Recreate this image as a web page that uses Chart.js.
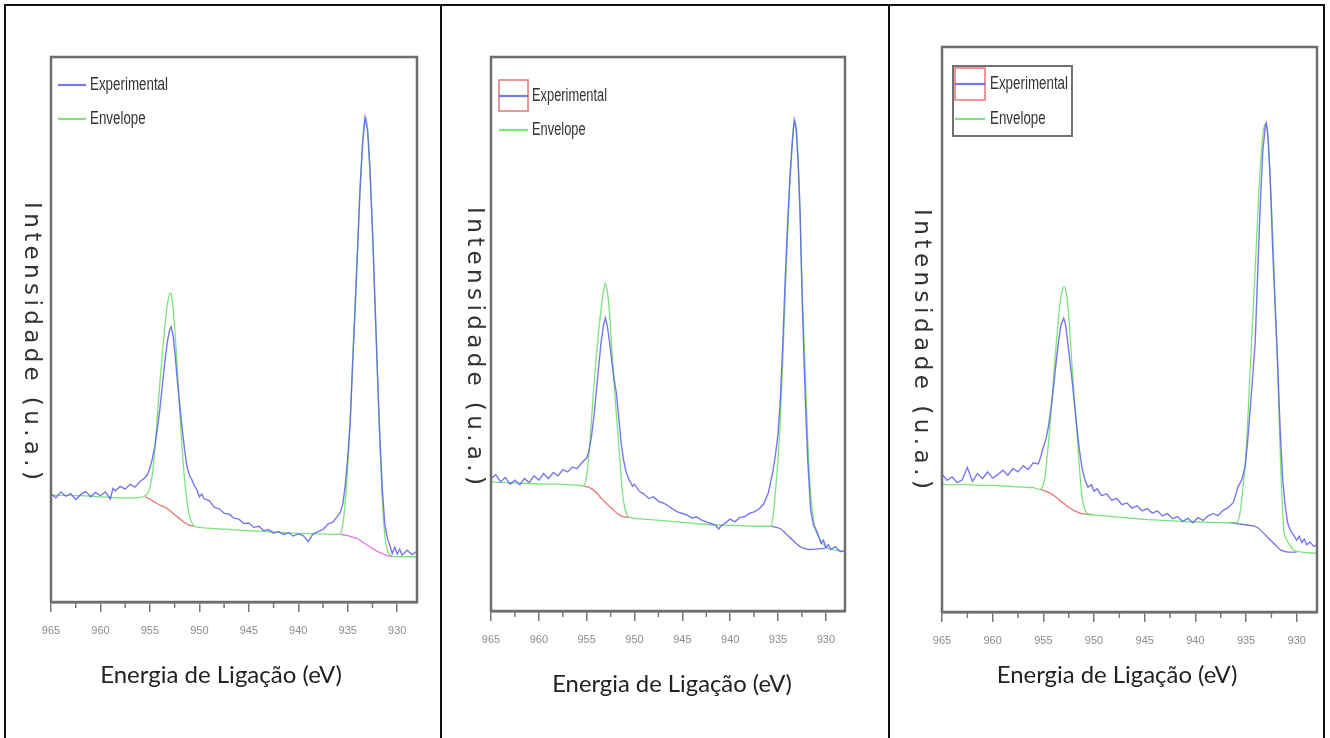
<!DOCTYPE html>
<html>
<head>
<meta charset="utf-8">
<script src="https://cdn.jsdelivr.net/npm/chart.js@4.4.1/dist/chart.umd.min.js"></script>
<style>
  html, body { margin: 0; padding: 0; background: #fff; }
  #page { position: relative; width: 1330px; height: 738px; overflow: hidden; background: #fff; }
  .rule { position: absolute; background: #111; }
  canvas { position: absolute; top: 0; }
</style>
</head>
<body>
<div id="page">
  <div class="rule" style="left:4px;top:4px;width:1321px;height:2px"></div>
  <div class="rule" style="left:4px;top:4px;width:2px;height:734px"></div>
  <div class="rule" style="left:440px;top:4px;width:2px;height:734px"></div>
  <div class="rule" style="left:888px;top:4px;width:2px;height:734px"></div>
  <div class="rule" style="left:1323px;top:4px;width:2px;height:734px"></div>
  <canvas id="c1"></canvas>
  <canvas id="c2"></canvas>
  <canvas id="c3"></canvas>
</div>
<script>
// energia de ligação (eV) -> intensidade (u.a., 0 = eixo, 100 = topo do quadro)
const xTicks = [965, 960, 955, 950, 945, 940, 935, 930];
const xMinorTicks = [962.5, 957.5, 952.5, 947.5, 942.5, 937.5, 932.5];
const xTitleText = "Energia de Ligação (eV)";
const yTitleText = "Intensidade (u.a.)";
const legendLabels = ["Experimental", "Envelope"];

// amostra 1
const exp1 = [[965,19.8],[964.5,19.1],[964,20.2],[963.5,19.4],[963,19.9],[962.5,18.8],[962,19.7],[961.5,20.3],[961,19.3],[960.5,20.1],[960,19.5],[959.5,20.2],[959,18.9],[958.75,20.8],[958.5,20.4],[958,21.2],[957.5,20.7],[957,21.6],[956.5,21.1],[956,22.1],[955.5,22.8],[955.25,23.4],[955,24.6],[954.75,26.3],[954.5,28.6],[954.25,31.8],[954,35.3],[953.75,39.6],[953.5,43.8],[953.25,47.6],[953,50.0],[952.85,50.5],[952.65,48.8],[952.45,45.3],[952.25,41.0],[952,36.4],[951.75,32.0],[951.5,28.0],[951.25,24.8],[951,23.2],[950.75,22.4],[950.5,21.3],[950.25,20.6],[950,19.3],[949.75,19.8],[949.5,18.9],[949,18.6],[948.5,17.4],[948,17.1],[947.5,16.3],[947,16.1],[946.5,15.4],[946,15.2],[945.5,14.4],[945,14.5],[944.5,13.7],[944,13.9],[943.5,13.1],[943,13.3],[942.5,12.6],[942,12.9],[941.5,12.4],[941,12.7],[940.5,12.1],[940,12.5],[939.5,12.2],[939,11.1],[938.5,12.5],[938,12.9],[937.5,13.3],[937,14.3],[936.5,14.7],[936,15.8],[935.75,16.5],[935.5,17.9],[935.25,21.5],[935,26.5],[934.75,33],[934.5,44],[934.25,54],[934,65],[933.75,76],[933.5,84],[933.25,88.9],[933,86.5],[932.75,79],[932.5,68],[932.25,55],[932,42],[931.75,30],[931.5,20.5],[931.25,14.2],[931,11.8],[930.75,10.4],[930.5,8.9],[930.25,10.1],[930,8.8],[929.75,9.7],[929.5,8.6],[929,9.5],[928.5,8.7],[928,9.3]];
const env1 = [[965,19.6],[962,19.5],[959,19.2],[958,19.1],[957,19.1],[956,19.2],[955.5,19.5],[955.25,19.9],[955,21.0],[954.75,23.5],[954.5,28],[954.25,34],[954,40],[953.75,45.5],[953.5,50.5],[953.25,54.5],[953,56.5],[952.9,56.7],[952.75,55.5],[952.5,50.5],[952.25,43.5],[952,35.5],[951.75,28.5],[951.5,22.5],[951.25,18.5],[951,15.8],[950.75,14.5],[950.5,13.9],[950,13.7],[948,13.4],[946,13.2],[944,13.0],[942,12.8],[940,12.6],[938,12.5],[936,12.4],[935.75,12.6],[935.5,14.2],[935.25,18.5],[935,25],[934.75,33.5],[934.5,44.5],[934.25,55],[934,65.5],[933.75,76],[933.5,84.5],[933.25,89],[933,87],[932.75,79.5],[932.5,68.5],[932.25,55.5],[932,42],[931.75,29],[931.5,18.5],[931.25,12.2],[931,9.5],[930.75,8.7],[930.5,8.4],[930,8.3],[928,8.3]];
const bgLeft1 = [[955.5,19.3],[955,18.9],[954.5,18.3],[954,17.8],[953.5,17.4],[953,16.8],[952.5,16.0],[952,15.3],[951.5,14.6],[951,14.1],[950.5,13.9]];
const bgRight1 = [[935.75,12.4],[935,12.2],[934.5,11.9],[934,11.6],[933.5,11.0],[933,10.4],[932.5,9.8],[932,9.3],[931.5,8.9],[931,8.5],[930.5,8.3]];

// amostra 2
const exp2 = [[965,23.9],[964.5,24.6],[964,23.3],[963.5,24.1],[963,22.9],[962.5,23.6],[962,22.8],[961.5,23.9],[961,23.2],[960.5,24.4],[960,23.6],[959.5,24.8],[959,23.9],[958.5,25.0],[958,24.4],[957.5,25.5],[957,25.1],[956.5,26.0],[956,25.7],[955.5,26.8],[955,27.6],[954.75,29.0],[954.5,31.5],[954.25,35.0],[954,39.4],[953.75,44.0],[953.5,48.4],[953.25,51.5],[953.05,52.9],[952.85,51.5],[952.6,48.5],[952.4,45.5],[952.15,42],[951.9,39.4],[951.65,35],[951.4,30.4],[951.15,27.3],[950.9,25.2],[950.6,23.8],[950.2,22.5],[950,22.9],[949.5,21.6],[949,21.1],[948.5,20.3],[948,20.6],[947.5,19.8],[947,19.5],[946.5,19.0],[946,18.4],[945.5,17.9],[945,17.6],[944.5,17.3],[944,16.8],[943.5,17.0],[943,16.4],[942.5,16.1],[942,15.8],[941.5,15.4],[941.2,14.8],[941,15.3],[940.5,15.9],[940,16.6],[939.5,16.1],[939,16.9],[938.5,17.0],[938,17.6],[937.5,17.9],[937,18.4],[936.5,19.3],[936,21.4],[935.75,23.5],[935.5,25.5],[935.25,28.5],[935,32],[934.75,38.5],[934.5,48.4],[934.25,60],[934,70],[933.75,78.5],[933.5,85],[933.3,88.6],[933.1,87],[932.9,81],[932.7,72],[932.5,58],[932.3,46],[932.1,36],[931.9,27.4],[931.6,18.4],[931.3,15.5],[931,14.6],[930.75,13.5],[930.5,12.2],[930.25,12.8],[930,11.4],[929.75,12.0],[929.5,11.1],[929,11.6],[928.5,10.7],[928,10.9]];
const env2 = [[965,23.3],[962,23.1],[959.2,22.9],[958,22.9],[957,22.8],[956,22.7],[955.3,22.6],[955.06,23.8],[954.8,27.5],[954.54,33.4],[954.3,39.5],[954.02,45.4],[953.75,50.5],[953.5,54.4],[953.25,57.5],[953.06,59.2],[952.85,57.8],[952.64,54.4],[952.3,45.4],[952.05,39],[951.8,33.4],[951.5,26.5],[951.26,21.4],[951,18.5],[950.74,17.2],[950.5,16.9],[949,16.6],[947,16.3],[945,16.0],[943,15.7],[941,15.5],[939,15.4],[937,15.3],[935.7,15.3],[935.5,17.5],[935.25,22],[935,27.4],[934.75,35],[934.5,45.4],[934.25,57],[934,68],[933.75,77.5],[933.5,84.5],[933.3,88.6],[933.1,87.2],[932.9,81.5],[932.7,72.5],[932.5,59],[932.2,45.4],[931.9,31],[931.6,21.4],[931.2,15.5],[930.8,13.5],[930.1,11.7],[929,11.0],[928,10.8]];
const bgLeft2 = [[955.4,22.6],[954.9,22.4],[954.4,22.0],[953.9,21.2],[953.4,20.2],[952.8,19.2],[952.3,18.4],[951.8,17.6],[951.3,17.1],[950.6,16.9]];
const bgRight2 = [[935.7,15.3],[935.2,15.1],[934.7,14.8],[934.2,14.0],[933.6,13.0],[933.1,12.2],[932.6,11.5],[932.1,11.2],[931.6,11.1],[930.8,11.2],[930.1,11.3]];

// amostra 3
const exp3 = [[965,24.4],[964.5,23.3],[964,23.9],[963.5,22.9],[963,23.4],[962.5,25.6],[962,23.1],[961.5,24.5],[961,23.6],[960.5,24.8],[960,23.7],[959.5,24.3],[959,25.1],[958.5,24.2],[958,25.4],[957.5,24.8],[957,25.9],[956.5,25.2],[956,26.4],[955.5,26.2],[955.25,27.5],[955,29.2],[954.75,30.5],[954.5,32.8],[954.25,36.0],[954,39.8],[953.75,44.0],[953.5,48.0],[953.25,50.9],[953,52.0],[952.85,51.2],[952.7,49.4],[952.45,45.5],[952.2,41.6],[951.95,37.2],[951.7,32.8],[951.45,28.8],[951.2,25.7],[950.9,23.4],[950.6,22.1],[950.25,22.5],[950,21.4],[949.7,21.8],[949.25,20.6],[948.75,20.9],[948.25,19.8],[947.75,20.1],[947.25,19.0],[946.75,19.3],[946.25,18.4],[945.75,18.8],[945.25,17.9],[944.75,18.3],[944.25,17.5],[943.75,17.9],[943.25,17.0],[942.75,17.4],[942.25,16.5],[941.75,16.9],[941.25,16.0],[940.75,16.6],[940.25,15.8],[939.75,16.7],[939.25,16.2],[938.75,17.0],[938.25,17.4],[937.75,17.1],[937.25,18.0],[936.75,18.5],[936.25,19.4],[935.8,22.1],[935.4,23.5],[935.1,25.7],[934.85,30],[934.6,35.7],[934.35,41.5],[934.1,47.6],[933.85,60],[933.6,72],[933.35,81.5],[933.1,86],[933.0,86.5],[932.85,84.5],[932.6,76],[932.35,63],[932.1,53],[931.9,44.6],[931.65,33],[931.4,23.9],[931.15,19],[930.9,15.8],[930.6,14.3],[930.3,13.6],[930,12.7],[929.75,13.4],[929.5,12.3],[929.25,12.9],[929,11.9],[928.7,12.4],[928.3,11.6],[928,11.9]];
const env3 = [[965,22.6],[964,22.5],[963,22.6],[962,22.5],[961,22.4],[960,22.4],[959,22.3],[958,22.2],[957,22.1],[956,22.0],[955.3,21.7],[955.05,22.3],[954.84,23.9],[954.6,28],[954.35,32.8],[954.1,38.5],[953.86,44.6],[953.6,50],[953.36,54.6],[953.15,56.8],[952.94,57.6],[952.74,56.5],[952.54,53.5],[952.38,49.5],[952.21,44.6],[951.97,38.5],[951.72,32.8],[951.48,26.5],[951.23,21.0],[950.98,18.6],[950.73,17.5],[950.1,17.2],[949,17.0],[947,16.7],[945,16.4],[943,16.2],[941,16.0],[939,15.9],[937,15.8],[935.9,15.8],[935.6,17.5],[935.3,22],[935.05,26.9],[934.8,35],[934.55,44.6],[934.3,53.5],[934.05,62.3],[933.8,72],[933.55,80],[933.3,85],[933.05,86.5],[932.8,83],[932.55,74],[932.3,64],[932.1,53],[931.9,44.6],[931.75,35],[931.6,26.9],[931.45,20],[931.3,15],[931.05,13],[930.8,12.2],[930.3,11.0],[929.5,10.6],[928,10.4]];
const bgLeft3 = [[955.3,21.7],[954.8,21.4],[954.3,21.0],[953.85,20.5],[953.4,19.8],[952.9,19.1],[952.4,18.4],[951.9,17.9],[951.4,17.5],[950.7,17.3],[950.1,17.2]];
const bgRight3 = [[936.6,15.8],[935.8,15.6],[934.9,15.4],[933.9,15.0],[933.3,14.0],[932.8,13.1],[932.3,12.2],[931.9,11.5],[931.6,11.0],[931.1,10.7],[930.7,10.6],[930,10.6]];

const EXP_COLOR = "rgba(95,95,235,0.85)";
const ENV_COLOR = "rgba(110,225,110,0.9)";
const RED_COLOR = "rgba(235,100,100,0.9)";
const MAG_COLOR = "rgba(225,105,225,0.9)";
const BLUE_BG = "rgba(100,100,220,0.9)";
const X_AXIS_H = 40;

// posições absolutas na página (px)
const panels = [
  { id: "c1", left: 7, width: 433, box: { l: 51, t: 57, r: 417, b: 602 },
    xTitle: { x: 221, y: 675, w: 242 }, yTitle: { x: 31, y: 341, len: 278 },
    legend: { kind: "plain", sx: 58, ex: 86, tx: 90, tw: 78, rows: [85, 119] },
    series: [exp1, env1, bgLeft1, bgRight1], bgRightColor: MAG_COLOR },
  { id: "c2", left: 442, width: 446, box: { l: 491, t: 57, r: 845, b: 611 },
    xTitle: { x: 672, y: 684, w: 240 }, yTitle: { x: 474, y: 346, len: 278 },
    legend: { kind: "redbox", sx: 499, ex: 528, tx: 532, tw: 75, rows: [96, 130], rb: { t: 80, b: 111 } },
    series: [exp2, env2, bgLeft2, bgRight2], bgRightColor: BLUE_BG },
  { id: "c3", left: 890, width: 433, box: { l: 942, t: 47, r: 1317, b: 612 },
    xTitle: { x: 1117, y: 675, w: 241 }, yTitle: { x: 921, y: 349, len: 280 },
    legend: { kind: "framed", sx: 955, ex: 985, tx: 990, tw: 78, rows: [84, 119], rb: { t: 68, b: 100 }, frame: { l: 953, t: 66, r: 1072, b: 136 } },
    series: [exp3, env3, bgLeft3, bgRight3], bgRightColor: BLUE_BG }
];

function line(label, data, color, width, smooth) {
  return {
    label: label, data: data, borderColor: color, borderWidth: width,
    pointRadius: 0, fill: false, tension: 0,
    cubicInterpolationMode: smooth ? "monotone" : "default"
  };
}

function decorPlugin(p) {
  return {
    id: "decor",
    afterDraw(chart) {
      const ctx = chart.ctx;
      const a = chart.chartArea;
      const xs = chart.scales.x;
      const off = p.left;

      // quadro
      ctx.save();
      ctx.strokeStyle = "#6e6e6e";
      ctx.lineWidth = 2.5;
      ctx.strokeRect(a.left, a.top, a.right - a.left, a.bottom - a.top);

      // marcas menores
      ctx.strokeStyle = "#777";
      ctx.lineWidth = 1.5;
      xMinorTicks.forEach((v) => {
        const px = xs.getPixelForValue(v);
        ctx.beginPath();
        ctx.moveTo(px, a.bottom);
        ctx.lineTo(px, a.bottom + 6);
        ctx.stroke();
      });

      // título x
      ctx.fillStyle = "#222";
      ctx.textAlign = "center";
      ctx.textBaseline = "middle";
      ctx.font = "24px Lato";
      const w24 = ctx.measureText(xTitleText).width;
      ctx.font = (24 * p.xTitle.w / w24).toFixed(1) + "px Lato";
      ctx.fillText(xTitleText, p.xTitle.x - off, p.xTitle.y);

      // título y (girado no sentido horário)
      ctx.save();
      ctx.translate(p.yTitle.x - off, p.yTitle.y);
      ctx.rotate(Math.PI / 2);
      ctx.font = "23px 'DejaVu Sans'";
      const raw = ctx.measureText(yTitleText).width;
      const sp = Math.max(0, (p.yTitle.len - raw) / (yTitleText.length - 1));
      ctx.letterSpacing = sp.toFixed(2) + "px";
      ctx.fillStyle = "#333";
      ctx.fillText(yTitleText, sp / 2, 0);
      ctx.restore();

      // legenda
      const L = p.legend;
      if (L.frame) {
        ctx.strokeStyle = "#707070";
        ctx.lineWidth = 2;
        ctx.strokeRect(L.frame.l - off, L.frame.t, L.frame.r - L.frame.l, L.frame.b - L.frame.t);
      }
      if (L.rb) {
        ctx.strokeStyle = "rgba(225,90,90,0.85)";
        ctx.lineWidth = 1.5;
        ctx.strokeRect(L.sx - off, L.rb.t, L.ex - L.sx, L.rb.b - L.rb.t);
      }
      ctx.font = "15px 'Liberation Sans'";
      const ew = ctx.measureText(legendLabels[0]).width;
      const sx = L.tw / ew;
      [EXP_COLOR, ENV_COLOR].forEach((c, i) => {
        ctx.strokeStyle = c;
        ctx.lineWidth = 2.2;
        ctx.beginPath();
        ctx.moveTo(L.sx - off, L.rows[i]);
        ctx.lineTo(L.ex - off, L.rows[i]);
        ctx.stroke();
        ctx.save();
        ctx.translate(L.tx - off, L.rows[i]);
        ctx.scale(sx, 1.25);
        ctx.font = "15px 'Liberation Sans'";
        ctx.fillStyle = "#333";
        ctx.textAlign = "left";
        ctx.textBaseline = "middle";
        ctx.fillText(legendLabels[i], 0, 0);
        ctx.restore();
      });
      ctx.restore();
    }
  };
}

panels.forEach((p) => {
  const cv = document.getElementById(p.id);
  cv.width = p.width;
  cv.height = 738;
  cv.style.left = p.left + "px";
  cv.style.width = p.width + "px";
  cv.style.height = "738px";

  new Chart(cv, {
    type: "line",
    data: {
      datasets: [
        line(legendLabels[0], p.series[0], EXP_COLOR, 1.4, false),
        line(legendLabels[1], p.series[1], ENV_COLOR, 1.3, true),
        line("Fundo", p.series[2], RED_COLOR, 1.3, true),
        line("Fundo", p.series[3], p.bgRightColor, 1.3, true)
      ]
    },
    options: {
      responsive: false,
      animation: false,
      layout: {
        padding: {
          left: p.box.l - p.left,
          right: p.left + p.width - p.box.r,
          top: p.box.t,
          bottom: 738 - p.box.b - X_AXIS_H
        }
      },
      plugins: { legend: { display: false }, tooltip: { enabled: false } },
      scales: {
        x: {
          type: "linear", min: 928, max: 965, reverse: true,
          afterBuildTicks: (s) => { s.ticks = xTicks.map((v) => ({ value: v })); },
          afterFit: (s) => { s.height = X_AXIS_H; },
          grid: { drawOnChartArea: false, drawTicks: true, tickLength: 10, color: "#777", lineWidth: 1.5 },
          border: { display: true, color: "#6e6e6e", width: 2.5 },
          ticks: {
            autoSkip: false, maxRotation: 0, padding: 12, color: "#8c8c8c",
            font: { family: "'Liberation Sans', Arial, sans-serif", size: 11 },
            callback: (v) => String(v)
          }
        },
        y: { display: false, min: 0, max: 100 }
      }
    },
    plugins: [decorPlugin(p)]
  });
});
</script>
</body>
</html>
